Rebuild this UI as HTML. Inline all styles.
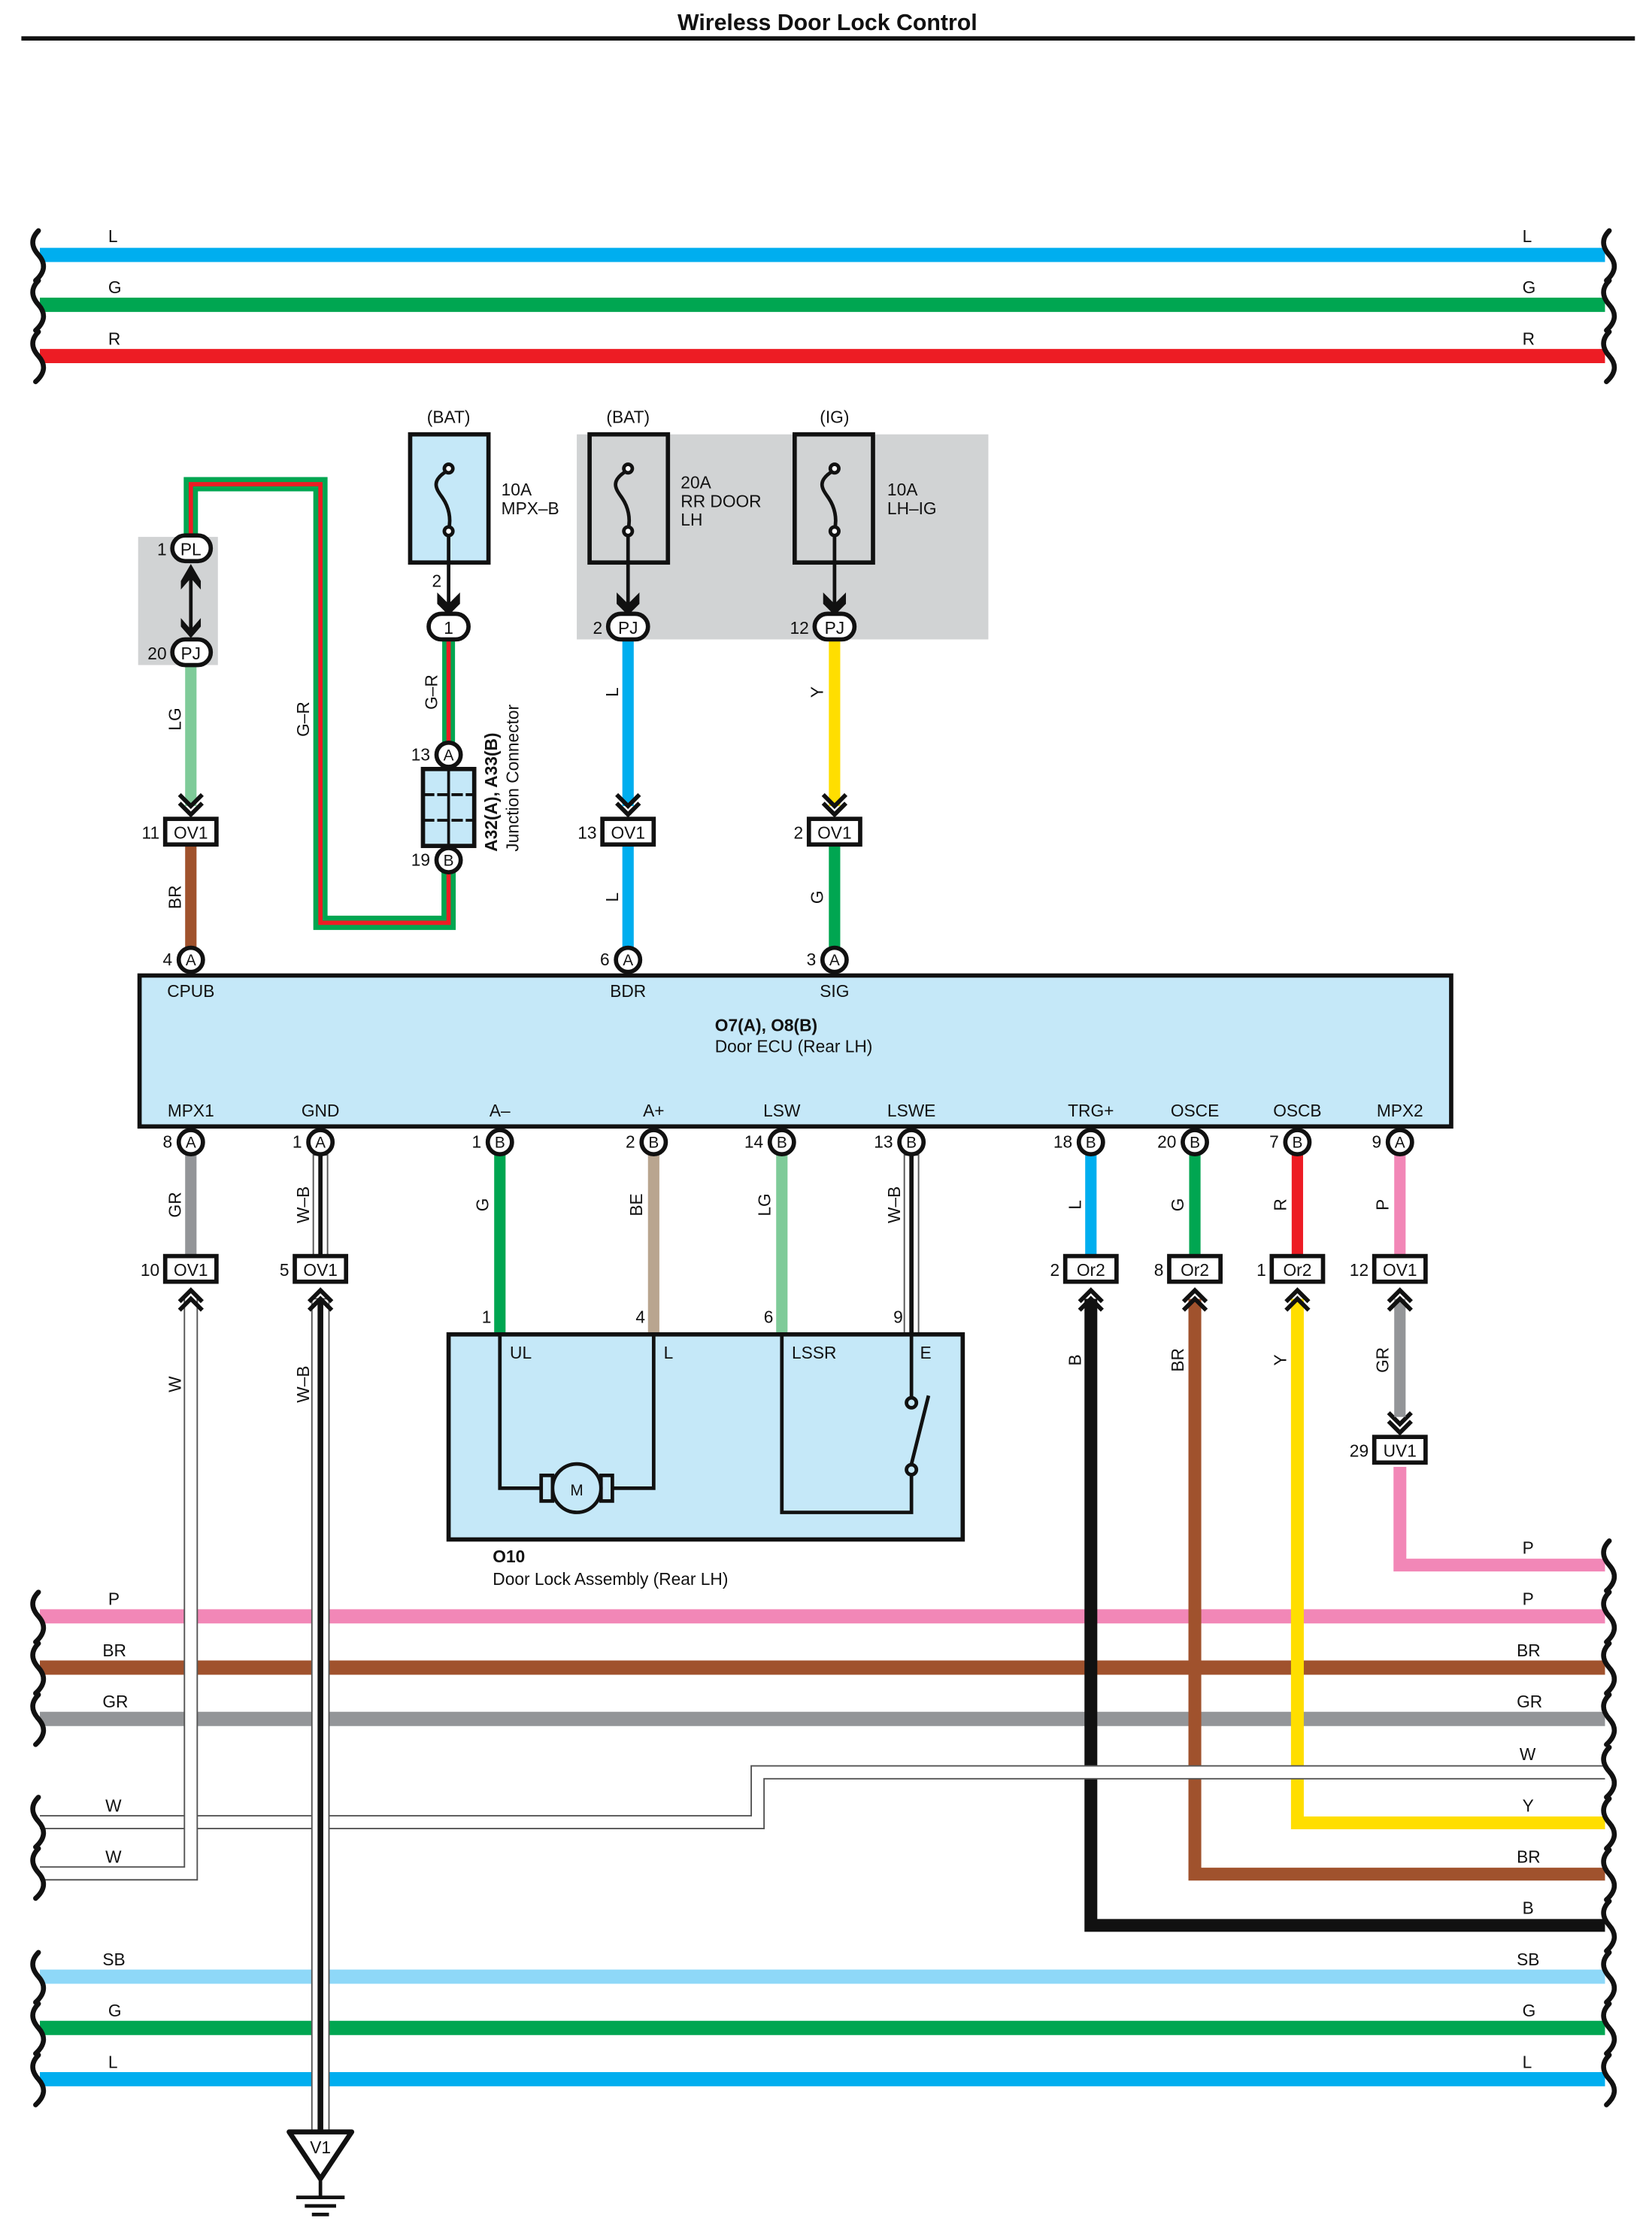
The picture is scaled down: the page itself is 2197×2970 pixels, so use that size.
<!DOCTYPE html>
<html><head><meta charset="utf-8"><style>html,body{margin:0;padding:0;background:#fff}svg{display:block}text{font-family:"Liberation Sans",Arial,sans-serif;fill:#111}</style></head><body>
<svg xmlns="http://www.w3.org/2000/svg" width="2197" height="2970" viewBox="0 0 1160 1568" preserveAspectRatio="none">
<defs>
<path id="sqL" d="M27,-17 q-8,8 0,17 q8,9 -2,18" fill="none" stroke="#111" stroke-width="3.5" stroke-linecap="round"/>
<path id="sqR" d="M1130,-17 q-8,8 0,17 q8,9 -2,18" fill="none" stroke="#111" stroke-width="3.5" stroke-linecap="round"/>
<polyline id="chD" points="-7,0 0,7 7,0 M0,0" fill="none" stroke="#111" stroke-width="3"/>
</defs>
<rect width="1160" height="1568" fill="#fff"/>
<text x="581" y="21" font-size="16" font-weight="bold" text-anchor="middle">Wireless Door Lock Control</text>
<line x1="15" y1="27" x2="1148" y2="27" stroke="#111" stroke-width="3"/>

<!-- top buses -->
<g stroke-width="10">
<line x1="28" y1="179" x2="1127" y2="179" stroke="#00aeef"/>
<line x1="28" y1="214" x2="1127" y2="214" stroke="#00a651"/>
<line x1="28" y1="250" x2="1127" y2="250" stroke="#ed1c24"/>
</g>
<g font-size="12">
<text x="76" y="170">L</text><text x="76" y="206">G</text><text x="76" y="242">R</text>
<text x="1069" y="170">L</text><text x="1069" y="206">G</text><text x="1069" y="242">R</text>
</g>
<use href="#sqL" y="179"/><use href="#sqL" y="214"/><use href="#sqL" y="250"/>
<use href="#sqR" y="179"/><use href="#sqR" y="214"/><use href="#sqR" y="250"/>

<!-- gray regions -->
<rect x="97" y="377" width="56" height="90" fill="#d1d3d4"/>
<rect x="405" y="305" width="289" height="144" fill="#d1d3d4"/>

<!-- G-R long wire -->
<path d="M134,376 V340 H225 V648 H315 V612" fill="none" stroke="#00a651" stroke-width="10"/>
<path d="M134,376 V340 H225 V648 H315 V612" fill="none" stroke="#ed1c24" stroke-width="3"/>
<line x1="315" y1="449" x2="315" y2="521" stroke="#00a651" stroke-width="9"/>
<line x1="315" y1="449" x2="315" y2="521" stroke="#ed1c24" stroke-width="3"/>

<!-- vertical wires top -->
<g stroke-width="8">
<line x1="134" y1="467" x2="134" y2="566" stroke="#7fcb99"/>
<line x1="134" y1="593" x2="134" y2="666" stroke="#a0522d"/>
<line x1="441" y1="449" x2="441" y2="566" stroke="#00aeef"/>
<line x1="441" y1="593" x2="441" y2="666" stroke="#00aeef"/>
<line x1="586" y1="449" x2="586" y2="566" stroke="#ffde00"/>
<line x1="586" y1="593" x2="586" y2="666" stroke="#00a651"/>
</g>

<!-- fuses -->
<g stroke="#111" stroke-width="3">
<rect x="288" y="305" width="55" height="90" fill="#c5e8f8"/>
<rect x="414" y="305" width="55" height="90" fill="none"/>
<rect x="558" y="305" width="55" height="90" fill="none"/>
</g>
<g fill="none" stroke="#111" stroke-width="2.5">
<path d="M315,330 c-14,8 -8,14 -4,20 s6,14 4,22"/><circle cx="315" cy="329" r="3" fill="#fff"/><circle cx="315" cy="373" r="3" fill="#fff"/>
<path d="M441,330 c-14,8 -8,14 -4,20 s6,14 4,22"/><circle cx="441" cy="329" r="3" fill="#fff"/><circle cx="441" cy="373" r="3" fill="#fff"/>
<path d="M586,330 c-14,8 -8,14 -4,20 s6,14 4,22"/><circle cx="586" cy="329" r="3" fill="#fff"/><circle cx="586" cy="373" r="3" fill="#fff"/>
<line x1="315" y1="376" x2="315" y2="425"/><line x1="441" y1="376" x2="441" y2="425"/><line x1="586" y1="376" x2="586" y2="425"/>
</g>
<g fill="#111">
<path d="M307,416 L315,424 L323,416 L323,424 L315,432 L307,424Z"/>
<path d="M433,416 L441,424 L449,416 L449,424 L441,432 L433,424Z"/>
<path d="M578,416 L586,424 L594,416 L594,424 L586,432 L578,424Z"/>
</g>
<g font-size="12">
<text x="315" y="297" text-anchor="middle">(BAT)</text>
<text x="441" y="297" text-anchor="middle">(BAT)</text>
<text x="586" y="297" text-anchor="middle">(IG)</text>
<text x="352" y="348">10A</text><text x="352" y="361">MPX–B</text>
<text x="478" y="343">20A</text><text x="478" y="356">RR DOOR</text><text x="478" y="369">LH</text>
<text x="623" y="348">10A</text><text x="623" y="361">LH–IG</text>
</g>

<!-- ovals -->
<g stroke="#111" stroke-width="3" fill="#fff">
<rect x="121" y="376" width="27" height="18" rx="9"/>
<rect x="121" y="449" width="27" height="18" rx="9"/>
<rect x="301" y="431" width="28" height="18" rx="9"/>
<rect x="427" y="431" width="28" height="18" rx="9"/>
<rect x="572" y="431" width="28" height="18" rx="9"/>
</g>
<g font-size="12" text-anchor="middle">
<text x="134" y="390">PL</text><text x="134" y="463">PJ</text><text x="315" y="445">1</text><text x="441" y="445">PJ</text><text x="586" y="445">PJ</text>
</g>
<g font-size="12" text-anchor="end">
<text x="117" y="390">1</text><text x="117" y="463">20</text><text x="310" y="412">2</text><text x="423" y="445">2</text><text x="568" y="445">12</text>
</g>
<!-- PL-PJ double arrow -->
<line x1="134" y1="398" x2="134" y2="446" stroke="#111" stroke-width="2.5"/>
<path d="M127,408 L134,396 L141,408 L141,414 L134,406 L127,414Z" fill="#111"/>
<path d="M127,434 L134,442 L141,434 L141,440 L134,448 L127,440Z" fill="#111"/>

<!-- junction connector -->
<rect x="297" y="540" width="36" height="54" fill="#c5e8f8" stroke="#111" stroke-width="3"/>
<g stroke="#111" stroke-width="2"><line x1="315" y1="540" x2="315" y2="594"/><line x1="297" y1="558" x2="333" y2="558" stroke-dasharray="8,2"/><line x1="297" y1="576" x2="333" y2="576" stroke-dasharray="8,2"/></g>
<text transform="translate(349,598) rotate(-90)" font-size="12" font-weight="bold">A32(A), A33(B)</text>
<text transform="translate(364,598) rotate(-90)" font-size="12">Junction Connector</text>

<!-- chevrons into boxes (down) -->
<g fill="none" stroke="#111" stroke-width="3">
<polyline points="126,558 134,566 142,558"/><polyline points="126,564 134,572 142,564"/>
<polyline points="433,558 441,566 449,558"/><polyline points="433,564 441,572 449,564"/>
<polyline points="578,558 586,566 594,558"/><polyline points="578,564 586,572 594,564"/>
<polyline points="975,992 983,1000 991,992"/><polyline points="975,998 983,1006 991,998"/>
</g>

<!-- ECU -->
<rect x="98" y="685" width="921" height="106" fill="#c5e8f8" stroke="#111" stroke-width="3"/>
<g font-size="12" text-anchor="middle">
<text x="134" y="700">CPUB</text><text x="441" y="700">BDR</text><text x="586" y="700">SIG</text>
<text x="134" y="784">MPX1</text><text x="225" y="784">GND</text><text x="351" y="784">A–</text><text x="459" y="784">A+</text><text x="549" y="784">LSW</text><text x="640" y="784">LSWE</text><text x="766" y="784">TRG+</text><text x="839" y="784">OSCE</text><text x="911" y="784">OSCB</text><text x="983" y="784">MPX2</text>
</g>
<text x="502" y="724" font-size="12" font-weight="bold">O7(A), O8(B)</text>
<text x="502" y="739" font-size="12">Door ECU (Rear LH)</text>

<!-- lower vertical wires -->
<g stroke-width="8">
<line x1="134" y1="811" x2="134" y2="882" stroke="#939598"/>
<line x1="351" y1="811" x2="351" y2="937" stroke="#00a651"/>
<line x1="459" y1="811" x2="459" y2="937" stroke="#b9a58f"/>
<line x1="549" y1="811" x2="549" y2="937" stroke="#7fcb99"/>
<line x1="766" y1="811" x2="766" y2="882" stroke="#00aeef"/>
<line x1="839" y1="811" x2="839" y2="882" stroke="#00a651"/>
<line x1="911" y1="811" x2="911" y2="882" stroke="#ed1c24"/>
<line x1="983" y1="811" x2="983" y2="882" stroke="#f287b7"/>
<line x1="983" y1="912" x2="983" y2="995" stroke="#939598"/>
</g>
<!-- W-B thin wires -->
<g>
<rect x="220" y="811" width="10" height="71" fill="#fff" stroke="#555" stroke-width="1"/>
<line x1="225" y1="811" x2="225" y2="882" stroke="#111" stroke-width="3"/>
<rect x="635" y="811" width="10" height="126" fill="#fff" stroke="#555" stroke-width="1"/>
<line x1="640" y1="811" x2="640" y2="937" stroke="#111" stroke-width="3"/>
</g>

<!-- bottom buses -->
<g stroke-width="10">
<line x1="28" y1="1135" x2="1127" y2="1135" stroke="#f287b7"/>
<line x1="28" y1="1171" x2="1127" y2="1171" stroke="#a0522d"/>
<line x1="28" y1="1207" x2="1127" y2="1207" stroke="#939598"/>
<line x1="28" y1="1388" x2="1127" y2="1388" stroke="#8ed8f8"/>
<line x1="28" y1="1424" x2="1127" y2="1424" stroke="#00a651"/>
<line x1="28" y1="1460" x2="1127" y2="1460" stroke="#00aeef"/>
</g>
<!-- right side wires -->
<path d="M983,1030 V1099 H1127" fill="none" stroke="#f287b7" stroke-width="9"/>
<path d="M911,912 V1280 H1127" fill="none" stroke="#ffde00" stroke-width="9"/>
<path d="M839,912 V1316 H1127" fill="none" stroke="#a0522d" stroke-width="9"/>
<path d="M766,912 V1352 H1127" fill="none" stroke="#111" stroke-width="9"/>
<!-- W wires -->
<path d="M1127,1244.5 H532 V1279.5 H28" fill="none" stroke="#555" stroke-width="10"/>
<path d="M1127,1244.5 H532 V1279.5 H28" fill="none" stroke="#fff" stroke-width="8"/>
<path d="M134,912 V1315.5 H28" fill="none" stroke="#555" stroke-width="10"/>
<path d="M134,912 V1315.5 H28" fill="none" stroke="#fff" stroke-width="8"/>
<!-- GND W-B -->
<rect x="219" y="912" width="12" height="584" fill="#fff" stroke="#555" stroke-width="1"/>
<line x1="225" y1="912" x2="225" y2="1496" stroke="#111" stroke-width="4"/>
<path d="M203,1497 H247 L225,1530 Z" fill="#fff" stroke="#111" stroke-width="3.5" stroke-linejoin="round"/>
<text x="225" y="1512" font-size="12" text-anchor="middle">V1</text>
<g stroke="#111" stroke-width="2.5"><line x1="225" y1="1530" x2="225" y2="1542"/><line x1="208" y1="1543" x2="242" y2="1543"/><line x1="214" y1="1549" x2="236" y2="1549"/><line x1="219" y1="1555" x2="231" y2="1555"/></g>

<g font-size="12">
<text x="76" y="1127">P</text><text x="72" y="1163">BR</text><text x="72" y="1199">GR</text><text x="74" y="1272">W</text><text x="74" y="1308">W</text><text x="72" y="1380">SB</text><text x="76" y="1416">G</text><text x="76" y="1452">L</text>
<text x="1069" y="1091">P</text><text x="1069" y="1127">P</text><text x="1065" y="1163">BR</text><text x="1065" y="1199">GR</text><text x="1067" y="1236">W</text><text x="1069" y="1272">Y</text><text x="1065" y="1308">BR</text><text x="1069" y="1344">B</text><text x="1065" y="1380">SB</text><text x="1069" y="1416">G</text><text x="1069" y="1452">L</text>
</g>
<use href="#sqL" y="1135"/><use href="#sqL" y="1171"/><use href="#sqL" y="1207"/><use href="#sqL" y="1279"/><use href="#sqL" y="1315"/><use href="#sqL" y="1388"/><use href="#sqL" y="1424"/><use href="#sqL" y="1460"/>
<use href="#sqR" y="1099"/><use href="#sqR" y="1135"/><use href="#sqR" y="1171"/><use href="#sqR" y="1207"/><use href="#sqR" y="1244"/><use href="#sqR" y="1280"/><use href="#sqR" y="1316"/><use href="#sqR" y="1352"/><use href="#sqR" y="1388"/><use href="#sqR" y="1424"/><use href="#sqR" y="1460"/>

<!-- up chevrons below boxes -->
<g fill="none" stroke="#111" stroke-width="3">
<polyline points="126,914 134,906 142,914"/><polyline points="126,920 134,912 142,920"/>
<polyline points="217,914 225,906 233,914"/><polyline points="217,920 225,912 233,920"/>
<polyline points="758,914 766,906 774,914"/><polyline points="758,920 766,912 774,920"/>
<polyline points="831,914 839,906 847,914"/><polyline points="831,920 839,912 847,920"/>
<polyline points="903,914 911,906 919,914"/><polyline points="903,920 911,912 919,920"/>
<polyline points="975,914 983,906 991,914"/><polyline points="975,920 983,912 991,920"/>
</g>

<!-- boxes -->
<g stroke="#111" stroke-width="3" fill="#fff">
<rect x="116" y="575" width="36" height="18"/><rect x="423" y="575" width="36" height="18"/><rect x="568" y="575" width="36" height="18"/>
<rect x="116" y="882" width="36" height="18"/><rect x="207" y="882" width="36" height="18"/>
<rect x="748" y="882" width="36" height="18"/><rect x="821" y="882" width="36" height="18"/><rect x="893" y="882" width="36" height="18"/><rect x="965" y="882" width="36" height="18"/>
<rect x="965" y="1009" width="36" height="18"/>
</g>
<g font-size="12" text-anchor="middle">
<text x="134" y="589">OV1</text><text x="441" y="589">OV1</text><text x="586" y="589">OV1</text>
<text x="134" y="896">OV1</text><text x="225" y="896">OV1</text><text x="766" y="896">Or2</text><text x="839" y="896">Or2</text><text x="911" y="896">Or2</text><text x="983" y="896">OV1</text><text x="983" y="1023">UV1</text>
</g>
<g font-size="12" text-anchor="end">
<text x="112" y="589">11</text><text x="419" y="589">13</text><text x="564" y="589">2</text>
<text x="112" y="896">10</text><text x="203" y="896">5</text><text x="744" y="896">2</text><text x="817" y="896">8</text><text x="889" y="896">1</text><text x="961" y="896">12</text><text x="961" y="1023">29</text>
</g>

<!-- circle connectors -->
<g stroke="#111" stroke-width="3" fill="#fff">
<circle cx="315" cy="530" r="8.5"/><circle cx="315" cy="604" r="8.5"/>
<circle cx="134" cy="674" r="8.5"/><circle cx="441" cy="674" r="8.5"/><circle cx="586" cy="674" r="8.5"/>
<circle cx="134" cy="802" r="8.5"/><circle cx="225" cy="802" r="8.5"/><circle cx="351" cy="802" r="8.5"/><circle cx="459" cy="802" r="8.5"/><circle cx="549" cy="802" r="8.5"/><circle cx="640" cy="802" r="8.5"/><circle cx="766" cy="802" r="8.5"/><circle cx="839" cy="802" r="8.5"/><circle cx="911" cy="802" r="8.5"/><circle cx="983" cy="802" r="8.5"/>
</g>
<g font-size="11" text-anchor="middle">
<text x="315" y="534">A</text><text x="315" y="608">B</text>
<text x="134" y="678">A</text><text x="441" y="678">A</text><text x="586" y="678">A</text>
<text x="134" y="806">A</text><text x="225" y="806">A</text><text x="351" y="806">B</text><text x="459" y="806">B</text><text x="549" y="806">B</text><text x="640" y="806">B</text><text x="766" y="806">B</text><text x="839" y="806">B</text><text x="911" y="806">B</text><text x="983" y="806">A</text>
</g>
<g font-size="12" text-anchor="end">
<text x="302" y="534">13</text><text x="302" y="608">19</text>
<text x="121" y="678">4</text><text x="428" y="678">6</text><text x="573" y="678">3</text>
<text x="121" y="806">8</text><text x="212" y="806">1</text><text x="338" y="806">1</text><text x="446" y="806">2</text><text x="536" y="806">14</text><text x="627" y="806">13</text><text x="753" y="806">18</text><text x="826" y="806">20</text><text x="898" y="806">7</text><text x="970" y="806">9</text>
<text x="345" y="929">1</text><text x="453" y="929">4</text><text x="543" y="929">6</text><text x="634" y="929">9</text>
</g>

<!-- rotated wire labels -->
<g font-size="12" text-anchor="middle">
<text transform="translate(127,505) rotate(-90)">LG</text>
<text transform="translate(127,630) rotate(-90)">BR</text>
<text transform="translate(217,505) rotate(-90)">G–R</text>
<text transform="translate(307,486) rotate(-90)">G–R</text>
<text transform="translate(434,486) rotate(-90)">L</text>
<text transform="translate(434,630) rotate(-90)">L</text>
<text transform="translate(578,486) rotate(-90)">Y</text>
<text transform="translate(578,630) rotate(-90)">G</text>
<text transform="translate(127,846) rotate(-90)">GR</text>
<text transform="translate(217,846) rotate(-90)">W–B</text>
<text transform="translate(343,846) rotate(-90)">G</text>
<text transform="translate(451,846) rotate(-90)">BE</text>
<text transform="translate(541,846) rotate(-90)">LG</text>
<text transform="translate(632,846) rotate(-90)">W–B</text>
<text transform="translate(759,846) rotate(-90)">L</text>
<text transform="translate(831,846) rotate(-90)">G</text>
<text transform="translate(903,846) rotate(-90)">R</text>
<text transform="translate(975,846) rotate(-90)">P</text>
<text transform="translate(127,972) rotate(-90)">W</text>
<text transform="translate(217,972) rotate(-90)">W–B</text>
<text transform="translate(759,955) rotate(-90)">B</text>
<text transform="translate(831,955) rotate(-90)">BR</text>
<text transform="translate(903,955) rotate(-90)">Y</text>
<text transform="translate(975,955) rotate(-90)">GR</text>
</g>

<!-- door lock assembly -->
<rect x="315" y="937" width="361" height="144" fill="#c5e8f8" stroke="#111" stroke-width="3"/>
<g fill="none" stroke="#111" stroke-width="2.5">
<path d="M351,937 V1045 H382"/><path d="M428,1045 H459 V937"/>
<rect x="380" y="1036" width="8" height="18" fill="#c5e8f8"/><rect x="422" y="1036" width="8" height="18" fill="#c5e8f8"/>
<circle cx="405" cy="1045" r="17" fill="#c5e8f8"/>
<path d="M549,937 V1062 H640 V1036"/><path d="M640,937 V981"/>
<circle cx="640" cy="985" r="3.5" fill="#c5e8f8"/><circle cx="640" cy="1032" r="3.5" fill="#c5e8f8"/>
<line x1="640" y1="1028" x2="652" y2="980"/>
</g>
<g font-size="12">
<text x="405" y="1050" text-anchor="middle" font-size="11">M</text>
<text x="358" y="954">UL</text><text x="466" y="954">L</text><text x="556" y="954">LSSR</text><text x="646" y="954">E</text>
<text x="346" y="1097" font-weight="bold">O10</text>
<text x="346" y="1113">Door Lock Assembly (Rear LH)</text>
</g>
</svg>
</body></html>
